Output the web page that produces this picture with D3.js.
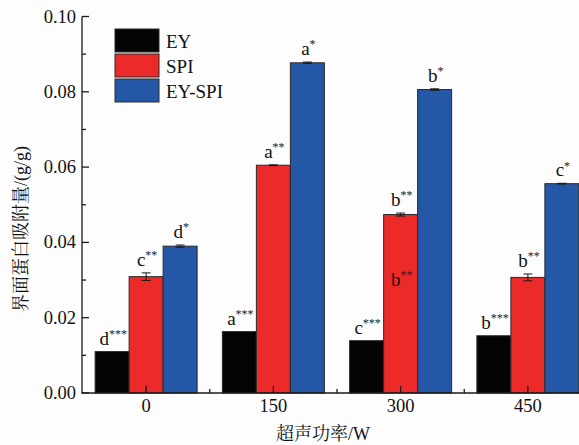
<!DOCTYPE html>
<html>
<head>
<meta charset="utf-8">
<script src="https://cdn.jsdelivr.net/npm/d3@7"></script>
<style>
  body { margin: 0; background: #fdfdfd; }
  svg { display: block; }
</style>
</head>
<body>
<svg id="chart" width="579" height="445"></svg>
<script>
// data
const powers = ["0", "150", "300", "450"];
const series = ["EY", "SPI", "EY-SPI"];
const eyValues = [0.0110, 0.0163, 0.0139, 0.0152];
const spiValues = [0.0309, 0.0605, 0.0474, 0.0307];
const eyspiValues = [0.0390, 0.0877, 0.0806, 0.0556];
const eyErrors = [0, 0, 0, 0];
const spiErrors = [0.0010, 0.0001, 0.0004, 0.0009];
const eyspiErrors = [0.0003, 0.0002, 0.0002, 0.0001];
const eyLetters = ["d", "a", "c", "b"];
const spiLetters = ["c", "a", "b", "b"];
const eyspiLetters = ["d", "a", "b", "c"];
const stars = {"EY": "***", "SPI": "**", "EY-SPI": "*"};
// stray label printed inside the SPI bar at 300 W
const extraLabels = [{power: "300", series: "SPI", value: 0.0284, letter: "b", stars: "**"}];
const yTicks = [0, 0.02, 0.04, 0.06, 0.08, 0.10];
const yMinor = [0.01, 0.03, 0.05, 0.07, 0.09];

const colors = {"EY": "#040404", "SPI": "#ec2a2a", "EY-SPI": "#2457a6"};

const values = {"EY": eyValues, "SPI": spiValues, "EY-SPI": eyspiValues};
const errors = {"EY": eyErrors, "SPI": spiErrors, "EY-SPI": eyspiErrors};
const letters = {"EY": eyLetters, "SPI": spiLetters, "EY-SPI": eyspiLetters};

const bars = [];
powers.forEach((p, i) => {
    series.forEach(s => {
        bars.push({power: p, series: s, value: values[s][i], err: errors[s][i], letter: letters[s][i], stars: stars[s]});
    });
});

const serif = "'Liberation Serif', 'Times New Roman', serif";
const cjk = "'Liberation Serif', 'Noto Serif CJK SC', 'Noto Sans CJK SC', serif";

const svg = d3.select("#chart");

const x0 = d3.scaleBand().domain(powers).range([82.5, 591.5]);
const x1 = d3.scaleBand().domain(series).range([-51, 51]);
const y = d3.scaleLinear().domain([0, 0.1]).range([393, 16.5]);

// bars
svg.append("g")
    .selectAll("rect")
    .data(bars)
    .join("rect")
    .attr("x", d => x0(d.power) + x0.bandwidth() / 2 + x1(d.series))
    .attr("y", d => y(d.value))
    .attr("width", x1.bandwidth())
    .attr("height", d => y(0) - y(d.value))
    .attr("fill", d => colors[d.series])
    .attr("stroke", "#2a2a2a")
    .attr("stroke-width", 1);

// error bars
const cx = d => x0(d.power) + x0.bandwidth() / 2 + x1(d.series) + x1.bandwidth() / 2;
const errG = svg.append("g")
    .attr("stroke", "#1a1a1a")
    .attr("stroke-width", 1)
    .selectAll("g")
    .data(bars.filter(d => d.err > 0))
    .join("g");
errG.append("line")
    .attr("x1", cx).attr("x2", cx)
    .attr("y1", d => y(d.value - d.err)).attr("y2", d => y(d.value + d.err));
errG.append("line")
    .attr("x1", d => cx(d) - 4.5).attr("x2", d => cx(d) + 4.5)
    .attr("y1", d => y(d.value + d.err)).attr("y2", d => y(d.value + d.err));
errG.append("line")
    .attr("x1", d => cx(d) - 4.5).attr("x2", d => cx(d) + 4.5)
    .attr("y1", d => y(d.value - d.err)).attr("y2", d => y(d.value - d.err));

// significance labels
function addLabels(data, yPos) {
    svg.append("g")
        .attr("font-family", serif)
        .attr("font-size", 19)
        .attr("fill", "#111")
        .attr("text-anchor", "middle")
        .selectAll("text")
        .data(data)
        .join("text")
        .attr("x", d => cx(d) + 1)
        .attr("y", yPos)
        .call(t => t.append("tspan").text(d => d.letter))
        .call(t => t.append("tspan")
            .attr("font-size", 12)
            .attr("dy", "-0.55em")
            .attr("fill", "#222")
            .text(d => d.stars));
}
addLabels(bars, d => y(d.value + d.err) - 7);
addLabels(extraLabels, d => y(d.value));

// y axis
const yAxis = svg.append("g").attr("stroke", "#1a1a1a").attr("stroke-width", 1.3);
yAxis.append("line").attr("x1", 82).attr("x2", 82).attr("y1", y(0.1)).attr("y2", y(0));
yAxis.selectAll(".major").data(yTicks).join("line")
    .attr("x1", 82).attr("x2", 89).attr("y1", d => y(d)).attr("y2", d => y(d));
yAxis.selectAll(".minor").data(yMinor).join("line")
    .attr("x1", 82).attr("x2", 86).attr("y1", d => y(d)).attr("y2", d => y(d));
svg.append("g")
    .attr("font-family", serif)
    .attr("font-size", 18.5)
    .attr("fill", "#111")
    .attr("text-anchor", "end")
    .selectAll("text")
    .data(yTicks)
    .join("text")
    .attr("x", 76)
    .attr("y", d => y(d) + 6)
    .text(d => d3.format(".2f")(d));

// x axis
const xAxis = svg.append("g").attr("stroke", "#1a1a1a").attr("stroke-width", 1.3);
xAxis.append("line").attr("x1", 81.4).attr("x2", 579).attr("y1", 393).attr("y2", 393);
xAxis.selectAll(".major").data(powers).join("line")
    .attr("x1", d => x0(d) + x0.bandwidth() / 2).attr("x2", d => x0(d) + x0.bandwidth() / 2)
    .attr("y1", 393).attr("y2", 386);
xAxis.selectAll(".minor").data(powers.slice(1)).join("line")
    .attr("x1", d => x0(d)).attr("x2", d => x0(d))
    .attr("y1", 393).attr("y2", 389);
svg.append("g")
    .attr("font-family", serif)
    .attr("font-size", 18.5)
    .attr("fill", "#111")
    .attr("text-anchor", "middle")
    .selectAll("text")
    .data(powers)
    .join("text")
    .attr("x", d => x0(d) + x0.bandwidth() / 2)
    .attr("y", 412)
    .text(d => d);

// axis titles
svg.append("text")
    .attr("font-family", cjk)
    .attr("font-size", 18)
    .attr("fill", "#111")
    .attr("text-anchor", "middle")
    .attr("x", 323)
    .attr("y", 440)
    .text("超声功率/W");
svg.append("text")
    .attr("font-family", cjk)
    .attr("font-size", 18)
    .attr("fill", "#111")
    .attr("text-anchor", "middle")
    .attr("transform", "translate(27,229) rotate(-90)")
    .text("界面蛋白吸附量/(g/g)");

// legend
const legend = svg.append("g")
    .selectAll("g")
    .data(series)
    .join("g")
    .attr("transform", (d, i) => `translate(115,${29 + i * 25})`);
legend.append("rect")
    .attr("width", 44)
    .attr("height", 23)
    .attr("fill", d => colors[d])
    .attr("stroke", "#2a2a2a");
legend.append("text")
    .attr("x", 51)
    .attr("y", 19)
    .attr("font-family", serif)
    .attr("font-size", 19)
    .attr("fill", "#111")
    .text(d => d);
</script>
</body>
</html>
